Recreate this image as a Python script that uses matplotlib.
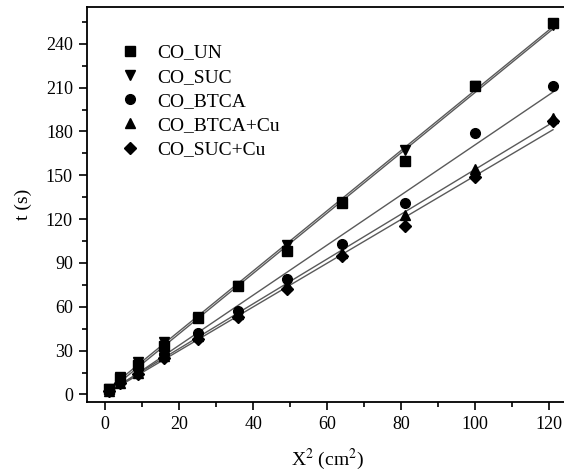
import numpy as np
import matplotlib
matplotlib.use('Agg')
import matplotlib.pyplot as plt

plt.rcParams['font.family'] = ['Liberation Serif', 'DejaVu Serif']
plt.rcParams['mathtext.fontset'] = 'stix'

# distance squared (cm^2)
x2 = [1, 4, 9, 16, 25, 36, 49, 64, 81, 100, 121]

co_un = [4, 11, 20, 33, 52, 74, 98, 131, 160, 211, 254]
co_suc = [4, 12, 22, 36, 53, 74, 102, 132, 167, 211, 253]
co_btca = [3, 10, 18, 28, 42, 57, 79, 103, 131, 179, 211]
co_btca_cu = [2, 8, 15, 26, 40, 55, 75, 97, 123, 154, 189]
co_suc_cu = [2, 8, 14, 25, 38, 53, 72, 95, 115, 149, 187]

labels = ['CO_UN', 'CO_SUC', 'CO_BTCA', 'CO_BTCA+Cu', 'CO_SUC+Cu']
markers = ['s', 'v', 'o', '^', 'D']
sizes = [6.5, 7.5, 7, 7.5, 6]
series = [co_un, co_suc, co_btca, co_btca_cu, co_suc_cu]

fig = plt.figure(figsize=(5.64, 4.72), dpi=100)
ax = fig.add_axes([0.1537, 0.1489, 1.0067 - 0.1537, 0.9845 - 0.1489])

x = np.array(x2, dtype=float)
handles = []
for y, lab, m, s in zip(series, labels, markers, sizes):
    y = np.array(y, dtype=float)
    k, b = np.polyfit(x, y, 1)
    # linear fit line
    ax.plot([x[0], x[-1]], [k * x[0] + b, k * x[-1] + b], color='#5a5a5a', lw=1.0, zorder=2)
    h, = ax.plot(x, y, linestyle='none', marker=m, ms=s, color='black', zorder=3, label=lab)
    handles.append(h)

ax.set_xlim(-5, 125)
ax.set_ylim(-5, 265)
ax.set_xticks(np.arange(0, 121, 20))
ax.set_xticks(np.arange(10, 125, 20), minor=True)
ax.set_yticks(np.arange(0, 241, 30))
ax.set_yticks(np.arange(15, 265, 30), minor=True)
ax.tick_params(which='major', direction='out', length=6, width=1.2, labelsize=13, pad=4)
ax.tick_params(which='minor', direction='out', length=3.5, width=1.2)
for sp in ax.spines.values():
    sp.set_linewidth(1.3)

ax.set_xlabel('X$^2$ (cm$^2$)', fontsize=14, labelpad=10)
ax.set_ylabel('t (s)', fontsize=14, labelpad=10)

ax.legend(handles=handles, loc='upper left', bbox_to_anchor=(0.07, 0.907),
          frameon=False, fontsize=14, handlelength=1.0, handletextpad=0.9,
          labelspacing=0.34, borderpad=0, borderaxespad=0)

fig.savefig('out.png', dpi=100)
